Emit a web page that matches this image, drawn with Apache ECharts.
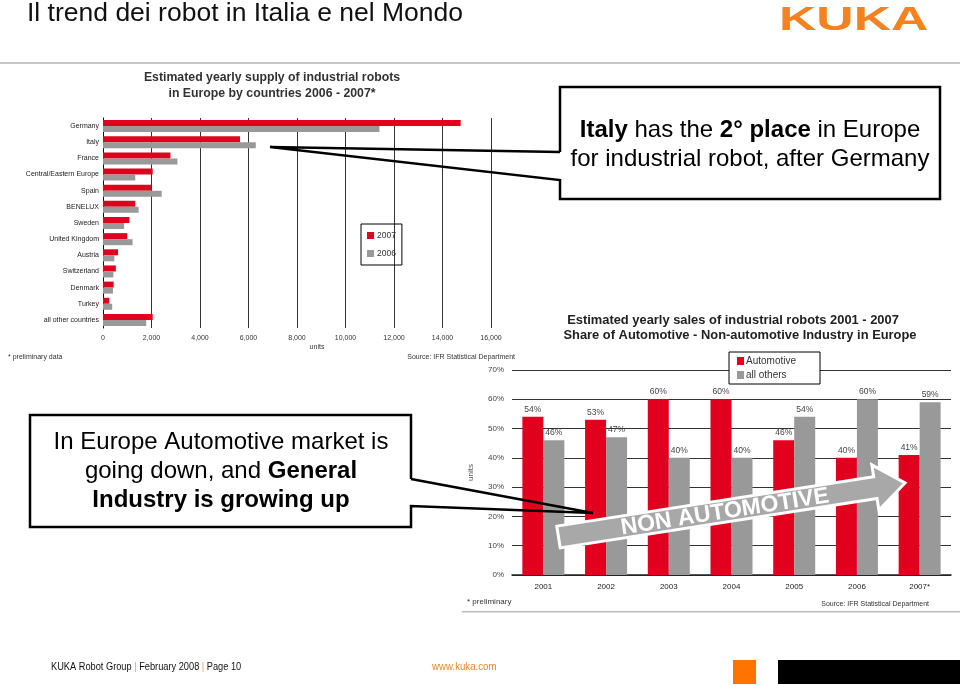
<!DOCTYPE html>
<html><head><meta charset="utf-8">
<script src="https://cdn.jsdelivr.net/npm/echarts@6/dist/echarts.min.js"></script>
<style>html,body{margin:0;padding:0;background:#fff}#c{width:960px;height:685px}</style>
</head><body><div id="c"></div>
<script>
// ---- data ----
const countries = ['Germany','Italy','France','Central/Eastern Europe','Spain','BENELUX','Sweden','United Kingdom','Austria','Switzerland','Denmark','Turkey','all other countries'];
const supply2007 = [14750, 5650, 2780, 2050, 2000, 1330, 1090, 1000, 620, 530, 440, 260, 2050];
const supply2006 = [11400, 6300, 3070, 1330, 2420, 1470, 870, 1220, 470, 430, 410, 380, 1780];
const supplyTicks = [0, 16000, 2000]; // min, max, interval
const years = ['2001','2002','2003','2004','2005','2006','2007*'];
const automotive = [54, 53, 60, 60, 46, 40, 41];
const allOthers = [46, 47, 40, 40, 54, 60, 59];
const shareTicks = [0, 70, 10];

const RED = '#e1001e', GRAY = '#999999', F = "'Liberation Sans', Arial, sans-serif";
const fmt = v => String(v).replace(/\B(?=(\d{3})+(?!\d))/g, ',');

// arrow annotation geometry
const T = [558.5, 537], P = [905, 483];
const L = Math.hypot(P[0]-T[0], P[1]-T[1]);
const u = [(P[0]-T[0])/L, (P[1]-T[1])/L], n = [u[1], -u[0]];
const B = [P[0]-30*u[0], P[1]-30*u[1]];
const off = (p, k) => [p[0]+k*n[0], p[1]+k*n[1]];
const arrowPts = [off(T,11), off(B,11), off(B,23), P, off(B,-23), off(B,-11), off(T,-11)];
const ang = Math.atan2(-(P[1]-T[1]), P[0]-T[0]);

const chart = echarts.init(document.getElementById('c'), null, {renderer:'canvas'});
const txt = (x, y, text, size, opts) => Object.assign({type:'text', x, y, z:100,
  style: Object.assign({text, fontSize:size, fontFamily:F, fill:'#222', align:'left', verticalAlign:'middle'}, (opts||{}))});

chart.setOption({
  backgroundColor:'#fff',
  animation:false,
  textStyle:{fontFamily:F},
  grid:[
    {left:103, top:118, width:388, height:210},
    {left:512, top:370, width:439, height:205}
  ],
  legend:[
    {data:['2007','2006'], orient:'vertical', left:361, top:224, icon:'rect', itemWidth:7, itemHeight:7, itemGap:9,
     padding:[7,6,7,6], borderColor:'#000', borderWidth:1, textStyle:{fontSize:8.5, color:'#333', padding:[0,0,0,-2]}},
    {data:['Automotive','all others'], orient:'vertical', left:729, top:352, icon:'rect', itemWidth:7, itemHeight:8, itemGap:4,
     padding:[4,24,4,8], borderColor:'#000', borderWidth:1, backgroundColor:'#fff', textStyle:{fontSize:10, color:'#333', padding:[0,0,0,-3]}}
  ],
  xAxis:[
    {type:'value', gridIndex:0, min:supplyTicks[0], max:supplyTicks[1], interval:supplyTicks[2],
     axisLine:{show:false}, axisTick:{show:false},
     axisLabel:{fontSize:7, color:'#333', margin:7, formatter:fmt},
     splitLine:{lineStyle:{color:'#333', width:1}},
     name:'units', nameLocation:'middle', nameGap:16, nameTextStyle:{fontSize:7, color:'#333', padding:[0,0,0,40]}},
    {type:'category', gridIndex:1, data:years,
     axisLine:{lineStyle:{color:'#222', width:1.5}}, axisTick:{show:false},
     axisLabel:{fontSize:8, color:'#222', margin:8}}
  ],
  yAxis:[
    {type:'category', gridIndex:0, data:countries, inverse:true,
     axisLine:{lineStyle:{color:'#111', width:1}}, axisTick:{show:false},
     axisLabel:{fontSize:7, color:'#222', margin:4}},
    {type:'value', gridIndex:1, min:shareTicks[0], max:shareTicks[1], interval:shareTicks[2],
     axisLine:{show:false}, axisTick:{show:false},
     axisLabel:{fontSize:8, color:'#444', margin:8, formatter:'{value}%'},
     splitLine:{lineStyle:{color:'#333', width:1}},
     name:'units', nameLocation:'middle', nameGap:37, nameRotate:90, nameTextStyle:{fontSize:8, color:'#555'}}
  ],
  series:[
    {name:'2007', type:'bar', xAxisIndex:0, yAxisIndex:0, data:supply2007, barWidth:6, barGap:'0%', itemStyle:{color:RED}},
    {name:'2006', type:'bar', xAxisIndex:0, yAxisIndex:0, data:supply2006, barWidth:6, barGap:'0%', itemStyle:{color:GRAY}},
    {name:'Automotive', type:'bar', xAxisIndex:1, yAxisIndex:1, data:automotive, barWidth:21, barGap:'0%', itemStyle:{color:RED},
     label:{show:true, position:'top', distance:3, fontSize:8.5, color:'#444', formatter:'{c}%'}},
    {name:'all others', type:'bar', xAxisIndex:1, yAxisIndex:1, data:allOthers, barWidth:21, barGap:'0%', itemStyle:{color:GRAY},
     label:{show:true, position:'top', distance:3, fontSize:8.5, color:'#444', formatter:'{c}%'}}
  ],
  graphic:{elements:[
    // header
    txt(27, 14, 'Il trend dei robot in Italia e nel Mondo', 26.5, {fill:'#111'}),
    {type:'text', x:779, y:4, scaleX:1.52, z:100, style:{text:'KUKA', fontSize:34, fontWeight:'bold', fontFamily:F, fill:'#f5821f', verticalAlign:'top'}},
    {type:'rect', z:100, shape:{x:0, y:62, width:960, height:2}, style:{fill:'#c8c8c8'}},
    // left chart texts
    txt(272, 78, 'Estimated yearly supply of industrial robots', 12.3, {fontWeight:'bold', align:'center', fill:'#333'}),
    txt(272, 94, 'in Europe by countries 2006 - 2007*', 12.3, {fontWeight:'bold', align:'center', fill:'#333'}),
    txt(8, 357, '* preliminary data', 7, {fill:'#333'}),
    txt(515, 357, 'Source: IFR Statistical Department', 7, {fill:'#333', align:'right'}),
    // right chart texts
    txt(733, 320, 'Estimated yearly sales of industrial robots 2001 - 2007', 12.9, {fontWeight:'bold', align:'center', fill:'#222'}),
    txt(740, 335, 'Share of Automotive - Non-automotive Industry in Europe', 12.9, {fontWeight:'bold', align:'center', fill:'#222'}),
    txt(467, 602, '* preliminary', 8, {fill:'#333'}),
    txt(929, 604, 'Source: IFR Statistical Department', 7, {fill:'#333', align:'right'}),
    {type:'rect', z:100, shape:{x:462, y:611, width:498, height:1.5}, style:{fill:'#bbbbbb'}},
    // arrow
    {type:'polygon', z:110, shape:{points:arrowPts}, style:{fill:'#a8a8a8', stroke:'#fff', lineWidth:3}},
    {type:'text', x:725, y:512, rotation:ang, z:111, style:{text:'NON AUTOMOTIVE', fontSize:23, fontWeight:'bold', fontFamily:F, fill:'#fff', align:'center', verticalAlign:'middle'}},
    // callout 1
    {type:'rect', z:99, shape:{x:560, y:87, width:380, height:112}, style:{fill:'#fff'}},
    {type:'polyline', z:100, shape:{points:[[560,152],[560,87],[940,87],[940,199],[560,199],[560,180],[270,147],[560,152]]}, style:{stroke:'#000', lineWidth:2.5, fill:null}},
    {type:'text', x:750, y:145, z:101, style:{text:'{b|Italy}{n| has the }{b|2° place}{n| in Europe}\n{n|for industrial robot, after Germany}',
      align:'center', verticalAlign:'middle', lineHeight:29, fontSize:24, fontFamily:F, fill:'#000',
      rich:{b:{fontWeight:'bold', fontSize:24, fontFamily:F, fill:'#000', lineHeight:29}, n:{fontSize:24, fontFamily:F, fill:'#000', lineHeight:29}}}},
    // callout 2
    {type:'rect', z:99, shape:{x:30, y:415, width:381, height:112}, style:{fill:'#fff'}},
    {type:'polyline', z:100, shape:{points:[[411,479],[411,415],[30,415],[30,527],[411,527],[411,506],[593,513],[411,479]]}, style:{stroke:'#000', lineWidth:2.5, fill:null}},
    {type:'text', x:221, y:471, z:101, style:{text:'{n|In Europe Automotive market is}\n{n|going down, and }{b|General}\n{b|Industry is growing up}',
      align:'center', verticalAlign:'middle', lineHeight:29, fontSize:24, fontFamily:F, fill:'#000',
      rich:{b:{fontWeight:'bold', fontSize:24, fontFamily:F, fill:'#000', lineHeight:29}, n:{fontSize:24, fontFamily:F, fill:'#000', lineHeight:29}}}},
    // footer
    {type:'text', x:51, y:667, scaleX:0.84, z:100, style:{text:'{n|KUKA Robot Group }{s||}{n| February 2008 }{s||}{n| Page 10}', verticalAlign:'middle', fontSize:11, fontFamily:F,
      rich:{n:{fontSize:11, fontFamily:F, fill:'#111'}, s:{fontSize:11, fontFamily:F, fill:'#f0a060'}}}},
    {type:'text', x:432, y:667, scaleX:0.88, z:100, style:{text:'www.kuka.com', fontSize:11, fontFamily:F, fill:'#e8892a', verticalAlign:'middle'}},
    {type:'rect', z:100, shape:{x:733, y:660, width:23, height:24}, style:{fill:'#ff7300'}},
    {type:'rect', z:100, shape:{x:778, y:660, width:182, height:24}, style:{fill:'#000'}}
  ]}
});
</script></body></html>
